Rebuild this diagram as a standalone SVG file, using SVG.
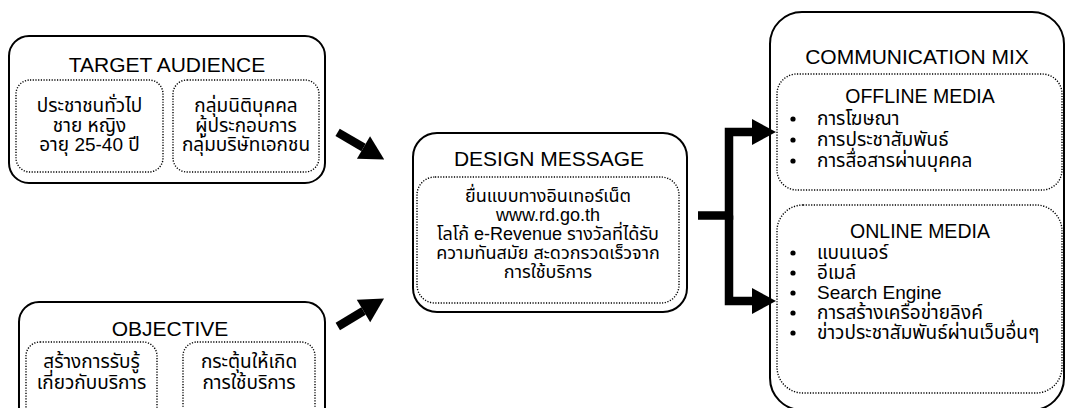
<svg xmlns="http://www.w3.org/2000/svg" width="1066" height="408" viewBox="0 0 1066 408">
<style>
text{font-family:"Liberation Sans","Noto Sans Thai",Tahoma,sans-serif;fill:#000;text-anchor:middle}
.h{font-size:21px}
.s{font-size:19.5px}
.b{font-size:19px}
.m{font-size:18px}
.l{text-anchor:start}
.outer{fill:#fff;stroke:#000;stroke-width:2}
.dot{fill:none;stroke:#000;stroke-width:1.4;stroke-dasharray:1.2 1.5}
.conn{fill:none;stroke:#000;stroke-width:8.5;stroke-linejoin:miter}
</style>
<defs>
<marker id="ah" markerUnits="userSpaceOnUse" markerWidth="25" markerHeight="26" refX="0" refY="13" orient="auto" overflow="visible">
<path d="M0,0 L24,13 L0,26 Z" fill="#000"/>
</marker>
</defs>
<rect width="1066" height="408" fill="#fff"/>
<g id="target-audience">
<rect class="outer" x="9" y="36" width="316" height="147" rx="20"/>
<text class="h" x="167" y="72">TARGET AUDIENCE</text>
<rect class="dot" x="16" y="80" width="147" height="92" rx="14"/>
<rect class="dot" x="173" y="80" width="146" height="92" rx="14"/>
<text class="b" x="89.5" y="112">ประชาชนทั่วไป</text>
<text class="b" x="89.5" y="131.5">ชาย หญิง</text>
<text class="b" x="89.5" y="151">อายุ 25-40 ปี</text>
<text class="b" x="246" y="112">กลุ่มนิติบุคคล</text>
<text class="b" x="246" y="131.5">ผู้ประกอบการ</text>
<text class="b" x="246" y="151">กลุ่มบริษัทเอกชน</text>
</g>
<g id="objective">
<rect class="outer" x="19" y="302" width="306" height="130" rx="20"/>
<text class="h" x="170" y="336">OBJECTIVE</text>
<rect class="dot" x="26" y="342" width="131" height="80" rx="14"/>
<rect class="dot" x="183" y="342" width="132" height="80" rx="14"/>
<text class="b" x="91.5" y="368">สร้างการรับรู้</text>
<text class="b" x="91.5" y="389">เกี่ยวกับบริการ</text>
<text class="b" x="249" y="368">กระตุ้นให้เกิด</text>
<text class="b" x="249" y="389">การใช้บริการ</text>
</g>
<g id="design-message">
<rect class="outer" x="413" y="133" width="274" height="179" rx="24"/>
<text class="h" x="549" y="166">DESIGN MESSAGE</text>
<rect class="dot" x="417" y="177" width="262" height="126" rx="18"/>
<text class="m" x="548" y="202">ยื่นแบบทางอินเทอร์เน็ต</text>
<text class="m" x="548" y="221">www.rd.go.th</text>
<text class="m" x="548" y="240">โลโก้ e-Revenue รางวัลที่ได้รับ</text>
<text class="m" x="548" y="259">ความทันสมัย สะดวกรวดเร็วจาก</text>
<text class="m" x="548" y="278">การใช้บริการ</text>
</g>
<g id="communication-mix">
<rect class="outer" x="770" y="12" width="294" height="398" rx="32"/>
<text class="h" x="917" y="64">COMMUNICATION MIX</text>
<g id="offline-media">
<rect class="dot" x="777" y="74" width="285" height="116" rx="20"/>
<text class="s" x="920" y="103">OFFLINE MEDIA</text>
<circle cx="793" cy="119" r="2.6"/>
<circle cx="793" cy="140" r="2.6"/>
<circle cx="793" cy="161" r="2.6"/>
<text class="b l" x="817" y="125">การโฆษณา</text>
<text class="b l" x="817" y="146">การประชาสัมพันธ์</text>
<text class="b l" x="817" y="167">การสื่อสารผ่านบุคคล</text>
</g>
<g id="online-media">
<rect class="dot" x="777" y="205" width="285" height="188" rx="26"/>
<text class="s" x="920" y="238">ONLINE MEDIA</text>
<circle cx="793" cy="253" r="2.6"/>
<circle cx="793" cy="273" r="2.6"/>
<circle cx="793" cy="293" r="2.6"/>
<circle cx="793" cy="313" r="2.6"/>
<circle cx="793" cy="333" r="2.6"/>
<text class="b l" x="817" y="259">แบนเนอร์</text>
<text class="b l" x="817" y="279">อีเมล์</text>
<text class="b l" x="817" y="299">Search Engine</text>
<text class="b l" x="817" y="319">การสร้างเครือข่ายลิงค์</text>
<text class="b l" x="817" y="339">ข่าวประชาสัมพันธ์ผ่านเว็บอื่นๆ</text>
</g>
</g>
<g id="connectors">
<path class="conn" d="M337.6,132.4 L363.5,147.5" marker-end="url(#ah)"/>
<path class="conn" d="M337.8,326.5 L363.5,311" marker-end="url(#ah)"/>
<path class="conn" d="M698,215.5 H729 V132 H752" marker-end="url(#ah)"/>
<path class="conn" d="M729,215.5 V301 H752" marker-end="url(#ah)"/>
</g>
</svg>
